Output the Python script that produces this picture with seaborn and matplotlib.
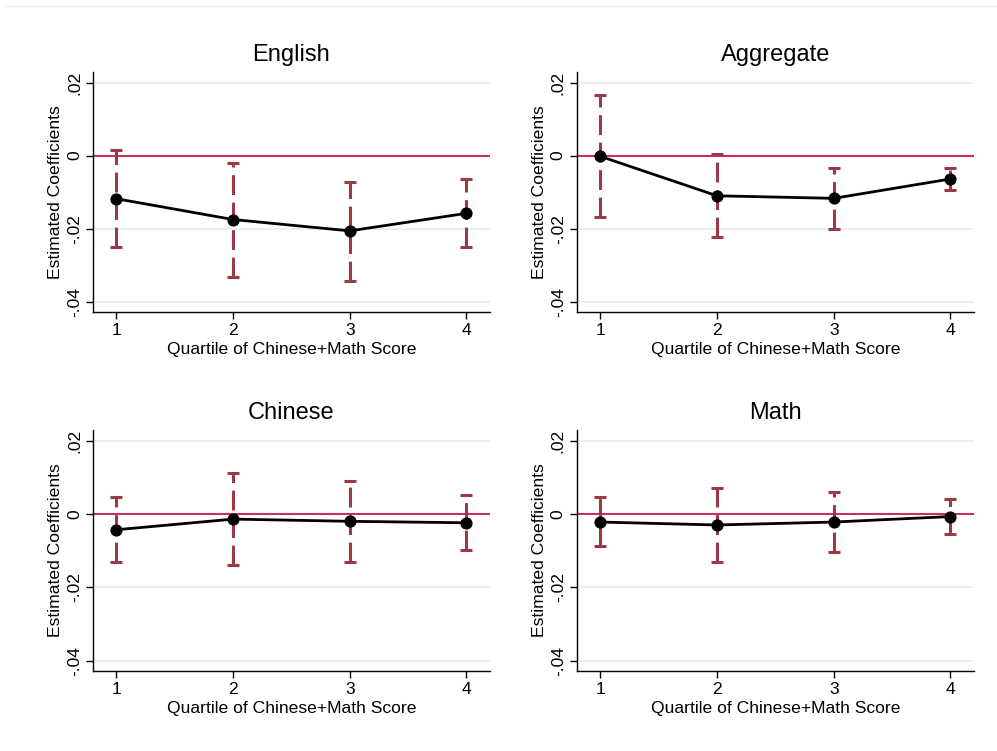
import numpy as np
import pandas as pd
import matplotlib
matplotlib.use("Agg")
import matplotlib.pyplot as plt
import seaborn as sns
from matplotlib.lines import Line2D

# data
quartiles = [1, 2, 3, 4]
panels = ["English", "Aggregate", "Chinese", "Math"]

english_coef = [-0.0118, -0.0175, -0.0206, -0.0158]
english_lo = [-0.0250, -0.0332, -0.0342, -0.0250]
english_hi = [0.0014, -0.0019, -0.0071, -0.0063]

aggregate_coef = [-0.0002, -0.0110, -0.0117, -0.0064]
aggregate_lo = [-0.0168, -0.0224, -0.0200, -0.0095]
aggregate_hi = [0.0166, 0.0005, -0.0034, -0.0034]

chinese_coef = [-0.0043, -0.0014, -0.0020, -0.0024]
chinese_lo = [-0.0132, -0.0139, -0.0132, -0.0099]
chinese_hi = [0.0045, 0.0113, 0.0091, 0.0052]

math_coef = [-0.0022, -0.0030, -0.0022, -0.0007]
math_lo = [-0.0088, -0.0130, -0.0103, -0.0055]
math_hi = [0.0047, 0.0070, 0.0060, 0.0041]

yticks = [0.02, 0, -0.02, -0.04]
ytick_labels = [".02", "0", "-.02", "-.04"]

series = {
    "English": (english_coef, english_lo, english_hi),
    "Aggregate": (aggregate_coef, aggregate_lo, aggregate_hi),
    "Chinese": (chinese_coef, chinese_lo, chinese_hi),
    "Math": (math_coef, math_lo, math_hi),
}

sns.set_theme(style="white")
plt.rcParams["font.family"] = ["Liberation Sans", "DejaVu Sans"]
plt.rcParams["text.color"] = "black"
plt.rcParams["axes.labelcolor"] = "black"

ci_color = "#9a3a47"
zero_color = "#c6325a"
grid_color = "#e6eeee"

fig = plt.figure(figsize=(9.97, 7.51), dpi=100)
fig.patch.set_facecolor("white")

positions = {
    "English": [0.0933, 0.5846, 0.398, 0.3196],
    "Aggregate": [0.5787, 0.5846, 0.398, 0.3196],
    "Chinese": [0.0933, 0.1065, 0.398, 0.321],
    "Math": [0.5787, 0.1065, 0.398, 0.321],
}

for name in panels:
    coef, lo, hi = series[name]
    df = pd.DataFrame({"q": quartiles, "coef": coef, "lo": lo, "hi": hi})
    ax = fig.add_axes(positions[name])

    for y in yticks:
        ax.axhline(y, color=grid_color, lw=1.2, zorder=0)
    ax.axhline(0, color=zero_color, lw=1.5, zorder=1)

    # dashed confidence intervals with caps
    _, caps, bars = ax.errorbar(
        df["q"], df["coef"],
        yerr=[df["coef"] - df["lo"], df["hi"] - df["coef"]],
        fmt="none", ecolor=ci_color, elinewidth=2.2, capsize=4.5,
        capthick=2.2, zorder=2,
    )
    bars[0].set_linestyle((0, (6.5, 2.5)))

    sns.lineplot(data=df, x="q", y="coef", ax=ax, color="black", lw=2,
                 marker="o", markersize=8, markeredgecolor="black", zorder=3)

    ax.set_xlim(0.8, 4.2)
    ax.set_ylim(-0.0428, 0.0229)
    ax.set_xticks(quartiles)
    ax.set_xticklabels([str(q) for q in quartiles], fontsize=12.6)
    ax.set_yticks(yticks)
    ax.set_yticklabels(ytick_labels, fontsize=12.6, rotation=90, va="center")
    ax.set_xlabel("Quartile of Chinese+Math Score", fontsize=12.6, labelpad=3)
    ax.set_ylabel("Estimated Coefficients", fontsize=12.6, labelpad=3)
    ax.set_title(name, fontsize=17, pad=8, color="black")

    sns.despine(ax=ax)
    for s in ["left", "bottom"]:
        ax.spines[s].set_color("black")
        ax.spines[s].set_linewidth(1)
    ax.tick_params(axis="both", direction="out", length=5, width=1,
                   color="black", labelcolor="black", pad=3,
                   left=True, bottom=True)
    ax.grid(False)

fig.add_artist(Line2D([0.004, 1.0], [0.992, 0.992], color="#e6eeee", lw=1))

fig.savefig("out.png", dpi=100, facecolor="white")
